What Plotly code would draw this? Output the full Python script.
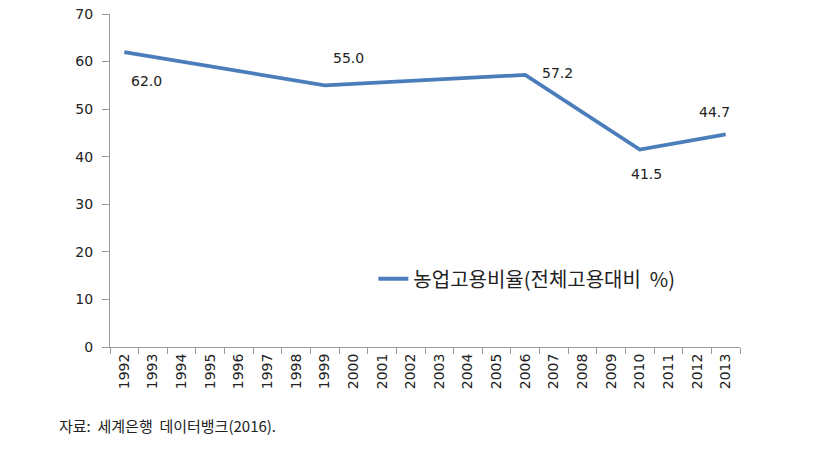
import plotly.graph_objects as go

years = [str(y) for y in range(1992, 2014)]
point_years = ["1992", "1999", "2006", "2010", "2013"]
share = [62.0, 55.0, 57.2, 41.5, 44.7]
label_shift = [(22, -29), (24, 27), (32, 2), (7, -24), (-11, 22)]

series_name = "농업고용비율(전체고용대비  %)"
source_text = "자료:  세계은행  데이터뱅크(2016)."

fig = go.Figure()
fig.add_trace(go.Scatter(
    x=point_years, y=share, mode="lines", name=series_name,
    line=dict(color="#4A7EBB", width=3.8),
))

# category axis: annotate by category index
for yr, v, (dx, dy) in zip(point_years, share, label_shift):
    fig.add_annotation(x=years.index(yr), y=v, text=f"{v:.1f}", showarrow=False,
                       xshift=dx, yshift=dy,
                       font=dict(family="DejaVu Sans", size=14, color="#222"))

fig.add_annotation(xref="paper", yref="paper", x=-0.084, y=0,
                   xanchor="left", yanchor="middle", yshift=-78,
                   text=source_text, showarrow=False,
                   font=dict(family="Noto Sans CJK KR", size=15, color="#222"))

fig.update_layout(
    width=824, height=451,
    margin=dict(l=110, r=84, t=14, b=104, autoexpand=False),
    plot_bgcolor="white", paper_bgcolor="white",
    font=dict(family="DejaVu Sans", size=14, color="#222"),
    showlegend=True,
    legend=dict(x=0.418, y=0.205, xanchor="left", yanchor="middle",
                bgcolor="rgba(0,0,0,0)",
                font=dict(family="Noto Sans CJK KR", size=20, color="#222")),
    xaxis=dict(type="category", categoryorder="array", categoryarray=years,
               range=[-0.5, len(years) - 0.5], tickson="boundaries",
               ticks="outside", ticklen=6, tickcolor="#999",
               showline=True, linecolor="#999", linewidth=1,
               showgrid=False, tickangle=-90, automargin=False,
               tickfont=dict(family="DejaVu Sans", size=14)),
    yaxis=dict(range=[0, 70], dtick=10, ticks="outside", ticklen=7,
               tickcolor="#999", showline=True, linecolor="#999",
               linewidth=1, showgrid=False, zeroline=False, automargin=False,
               ticklabelstandoff=6, ticklabeloverflow="allow",
               tickfont=dict(family="DejaVu Sans", size=14)),
)

# drop the default 8px body margin so the figure sits at the window corner
fig.write_html("out.html", config={"displayModeBar": False},
               post_script="document.body.style.margin='0';"
                           "document.body.style.overflow='hidden';")
